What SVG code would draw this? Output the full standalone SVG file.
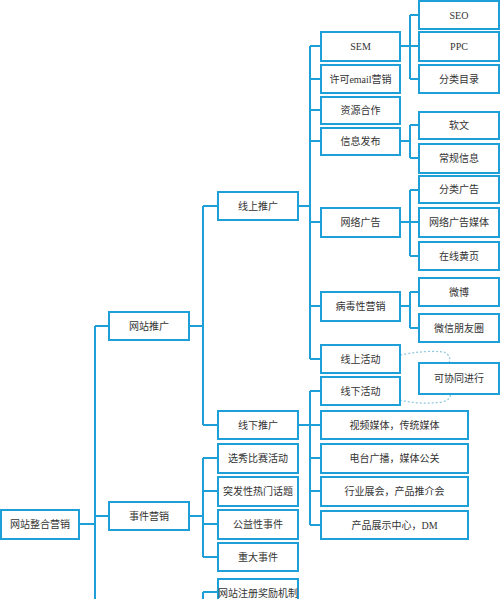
<svg xmlns="http://www.w3.org/2000/svg" width="500" height="599" viewBox="0 0 500 599">
<style>
.b{fill:#fff;stroke:#1e9fd8;stroke-width:2}
.t{font-family:"Liberation Serif","Noto Sans CJK SC",serif;font-size:10px;fill:#333;text-anchor:middle;dominant-baseline:central}
.c{fill:none;stroke:#1e9fd8;stroke-width:2}
.d{fill:none;stroke:#8cc8e0;stroke-width:1.2;stroke-dasharray:2 2}
</style>
<rect width="500" height="599" fill="#fff"/>
<g id="connectors">
<path class="c" d="M80,524H95M95,326V599M95,326H109M95,516H109"/>
<path class="c" d="M189,326H203M203,206V425M203,206H218M203,425H218"/>
<path class="c" d="M189,516H203M203,458V557M203,458H218M203,491H218M203,524H218M203,557H218"/>
<path class="c" d="M203,592H218M203,592V599"/>
<path class="c" d="M298,206H310M310,46V359M310,46H321M310,79H321M310,110H321M310,141H321M310,222H321M310,306H321M310,359H321"/>
<path class="c" d="M298,425H310M310,391V525M310,391H321M310,425H321M310,458H321M310,491H321M310,525H321"/>
<path class="c" d="M400,46H410M410,15V79M410,15H419M410,46H419M410,79H419"/>
<path class="c" d="M400,141H410M410,125V158M410,125H419M410,158H419"/>
<path class="c" d="M400,222H410M410,190V256M410,190H419M410,222H419M410,256H419"/>
<path class="c" d="M400,306H410M410,292V328M410,292H419M410,328H419"/>
<path class="d" d="M400,355Q425,350 444,352Q452,356 449,363"/>
<path class="d" d="M400,400Q420,405 442,402Q452,399 450,394"/>
</g>
<g id="n-root"><rect class="b" x="1" y="510" width="78" height="29"/><text class="t" x="40" y="524.5">网站整合营销</text></g>
<g id="n-wztg"><rect class="b" x="109" y="312" width="80" height="28"/><text class="t" x="149" y="326">网站推广</text></g>
<g id="n-sjyx"><rect class="b" x="109" y="502" width="80" height="28"/><text class="t" x="149" y="516">事件营销</text></g>
<g id="n-xstg"><rect class="b" x="218" y="192" width="80" height="28"/><text class="t" x="258" y="206">线上推广</text></g>
<g id="n-xxtg"><rect class="b" x="218" y="411" width="80" height="28"/><text class="t" x="258" y="425">线下推广</text></g>
<g id="n-xx"><rect class="b" x="218" y="444" width="80" height="29"/><text class="t" x="258" y="458.5">选秀比赛活动</text></g>
<g id="n-tf"><rect class="b" x="218" y="477" width="80" height="29"/><text class="t" x="258" y="491.5">突发性热门话题</text></g>
<g id="n-gy"><rect class="b" x="218" y="510" width="80" height="29"/><text class="t" x="258" y="524.5">公益性事件</text></g>
<g id="n-zd"><rect class="b" x="218" y="543" width="80" height="28"/><text class="t" x="258" y="557">重大事件</text></g>
<g id="n-zc"><rect class="b" x="218" y="579" width="80" height="30"/><text class="t" x="258" y="593">网站注册奖励机制</text></g>
<g id="n-sem"><rect class="b" x="321" y="32" width="79" height="29"/><text class="t" x="360.5" y="46.5">SEM</text></g>
<g id="n-email"><rect class="b" x="321" y="65" width="79" height="28"/><text class="t" x="360.5" y="79">许可email营销</text></g>
<g id="n-zy"><rect class="b" x="321" y="97" width="79" height="27"/><text class="t" x="360.5" y="110.5">资源合作</text></g>
<g id="n-xx2"><rect class="b" x="321" y="128" width="79" height="27"/><text class="t" x="360.5" y="141.5">信息发布</text></g>
<g id="n-wlgg"><rect class="b" x="321" y="208" width="79" height="29"/><text class="t" x="360.5" y="222.5">网络广告</text></g>
<g id="n-bd"><rect class="b" x="321" y="292" width="79" height="29"/><text class="t" x="360.5" y="306.5">病毒性营销</text></g>
<g id="n-xshd"><rect class="b" x="321" y="345" width="79" height="28"/><text class="t" x="360.5" y="359">线上活动</text></g>
<g id="n-xxhd"><rect class="b" x="321" y="377" width="79" height="28"/><text class="t" x="360.5" y="391">线下活动</text></g>
<g id="n-sp"><rect class="b" x="321" y="411" width="147" height="28"/><text class="t" x="394.5" y="425">视频媒体，传统媒体</text></g>
<g id="n-dt"><rect class="b" x="321" y="444" width="147" height="29"/><text class="t" x="394.5" y="458.5">电台广播，媒体公关</text></g>
<g id="n-hy"><rect class="b" x="321" y="477" width="147" height="29"/><text class="t" x="394.5" y="491.5">行业展会，产品推介会</text></g>
<g id="n-cp"><rect class="b" x="321" y="511" width="147" height="28"/><text class="t" x="394.5" y="525">产品展示中心，DM</text></g>
<g id="n-seo"><rect class="b" x="419" y="1" width="80" height="28"/><text class="t" x="459" y="15">SEO</text></g>
<g id="n-ppc"><rect class="b" x="419" y="32" width="80" height="29"/><text class="t" x="459" y="46.5">PPC</text></g>
<g id="n-fl"><rect class="b" x="419" y="65" width="80" height="28"/><text class="t" x="459" y="79">分类目录</text></g>
<g id="n-rw"><rect class="b" x="419" y="112" width="80" height="27"/><text class="t" x="459" y="125.5">软文</text></g>
<g id="n-cg"><rect class="b" x="419" y="144" width="80" height="29"/><text class="t" x="459" y="158.5">常规信息</text></g>
<g id="n-flgg"><rect class="b" x="419" y="176" width="80" height="27"/><text class="t" x="459" y="189.5">分类广告</text></g>
<g id="n-wlmt"><rect class="b" x="419" y="208" width="80" height="29"/><text class="t" x="459" y="222.5">网络广告媒体</text></g>
<g id="n-hy2"><rect class="b" x="419" y="242" width="80" height="28"/><text class="t" x="459" y="256">在线黄页</text></g>
<g id="n-wb"><rect class="b" x="419" y="278" width="80" height="28"/><text class="t" x="459" y="292">微博</text></g>
<g id="n-wx"><rect class="b" x="419" y="314" width="80" height="28"/><text class="t" x="459" y="328">微信朋友圈</text></g>
<g id="n-xt"><rect class="b" x="419" y="363" width="80" height="31"/><text class="t" x="459" y="378.5">可协同进行</text></g>
</svg>
